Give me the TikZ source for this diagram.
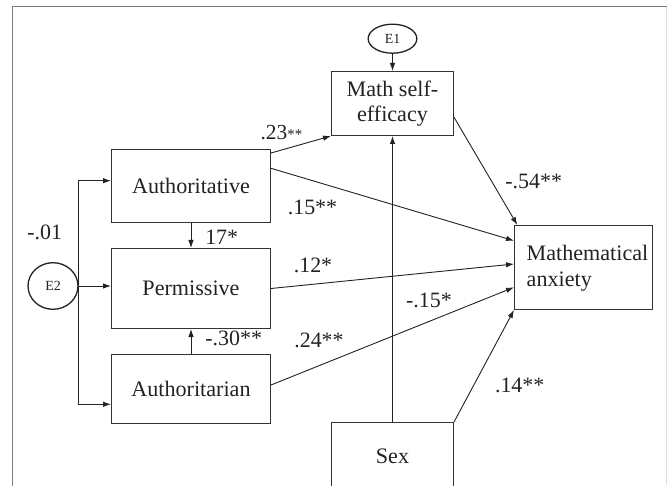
\documentclass[tikz,border=0pt]{standalone}
\usepackage{fontspec}
\setmainfont{Liberation Serif}
\usetikzlibrary{arrows.meta,shapes.geometric}
\definecolor{ink}{HTML}{222222}
\definecolor{boxline}{HTML}{333333}
\definecolor{framegray}{HTML}{7A7A7A}
\definecolor{framelight}{HTML}{DDDDDD}
\tikzset{
  box/.style={draw=boxline, line width=1bp, rectangle, inner sep=0pt, text=ink, align=center,
    font=\fontsize{22.2}{25}\selectfont},
  err/.style={draw=ink, line width=1.3bp, ellipse, inner sep=0pt, text=ink,
    font=\fontsize{14}{14}\selectfont},
  arr/.style={draw=ink, line width=0.9bp, -{Latex[length=8bp,width=5.5bp]}},
  coef/.style={inner sep=0pt, text=ink, font=\fontsize{22}{22}\selectfont},
  txt/.style={inner sep=0pt, text=ink, align=left, font=\fontsize{22.2}{26.7}\selectfont},
}
\begin{document}
\begin{tikzpicture}[x=1bp,y=-1bp]
\useasboundingbox (0,0) rectangle (667,486);
\clip (0,0) rectangle (667,486);
% frame
\draw[framegray, line width=1.2bp] (12.6,490) -- (12.6,6.9) -- (667,6.9);
\draw[framelight, line width=1bp] (666.2,6.9) -- (666.2,485);
% nodes
\node[box, minimum width=159bp, minimum height=73bp] (auth) at (191,186) {Authoritative};
\node[box, minimum width=159bp, minimum height=80bp] (perm) at (191,288.5) {Permissive};
\node[box, minimum width=159bp, minimum height=69bp] (authn) at (191,389) {Authoritarian};
\node[box, minimum width=122bp, minimum height=64bp] (mse) at (392.5,103.5) {Math self-\\efficacy};
\node[box, minimum width=138bp, minimum height=84bp] (ma) at (583.5,267.5) {};
\node[txt, anchor=west] (matext) at (526.5,268.3) {Mathematical\\anxiety};
\node[box, minimum width=122bp, minimum height=68bp] (sex) at (392.5,456.5) {Sex};
\node[err, minimum width=48.7bp, minimum height=29bp] (e1) at (392.5,38.7) {E1};
\node[err, minimum width=50bp, minimum height=46.6bp] (e2) at (53,286) {E2};
% connectors
\draw[arr] (e2.east) -- (e2.east -| perm.west);
\draw[arr] (e2.east) |- ([yshift=5.3bp]auth.west);
\draw[arr] (e2.east) |- ([yshift=-15.3bp]authn.west);
\draw[arr] (e1.south) -- (mse.north);
\draw[arr] (auth.south) -- (auth.south |- perm.north);
\draw[arr] (authn.north) -- (authn.north |- perm.south);
\draw[arr] ([yshift=-4bp]auth.north east) -- (mse.south west);
\draw[arr] ([yshift=17.7bp]auth.east) -- ([yshift=26.8bp]ma.west);
\draw[arr] (perm.east) -- ([yshift=3.5bp]ma.west);
\draw[arr] ([yshift=4bp]authn.east) -- ([yshift=-19.8bp]ma.west);
\draw[arr] (sex.north) -- (mse.south);
\draw[arr] (sex.north east) -- (ma.south west);
\draw[arr] ([yshift=-13.7bp]mse.east) -- ([xshift=3.3bp]ma.north west);
% coefficients
\node[coef] (c23) at (281.5,133) {{\fontsize{21.5}{21.5}\selectfont .23}{\fontsize{15}{15}\selectfont **}};
\node[coef] (c15a) at (312.5,207.3) {.15**};
\node[coef] (c12) at (313,265.7) {.12*};
\node[coef] (c15b) at (429,300.7) {-.15*};
\node[coef] (c24) at (319,340) {.24**};
\node[coef] (c54) at (533.7,181) {-.54**};
\node[coef] (c14) at (519.7,385) {.14**};
\node[coef] (c17) at (221.7,237.3) {17*};
\node[coef] (c30) at (233.7,338.3) {-.30**};
\node[coef] (c01) at (44.7,232.7) {-.01};
\end{tikzpicture}
\end{document}
